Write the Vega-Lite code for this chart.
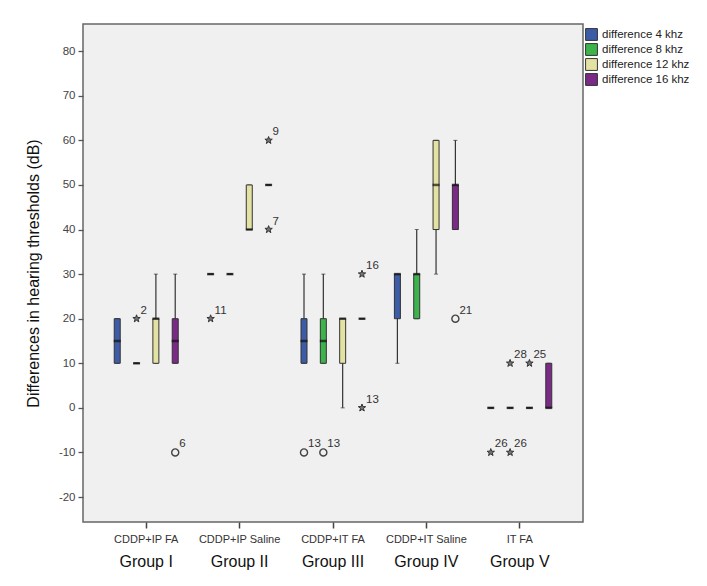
{
  "$schema": "https://vega.github.io/schema/vega-lite/v6.json",
  "width": 500,
  "height": 498,
  "autosize": {"type": "none"},
  "padding": {"left": 83, "top": 24, "right": 124, "bottom": 64},
  "background": "white",
  "config": {
    "font": "Liberation Sans",
    "view": {"fill": "#f0f0f0", "stroke": "#666666", "strokeWidth": 1.5}
  },
  "datasets": {
    "boxes": [
      {"group": "CDDP+IP FA", "freq": "difference 4 khz", "lo": 10, "q1": 10, "med": 15, "q3": 20, "hi": 20},
      {"group": "CDDP+IP FA", "freq": "difference 8 khz", "lo": 10, "q1": 10, "med": 10, "q3": 10, "hi": 10},
      {"group": "CDDP+IP FA", "freq": "difference 12 khz", "lo": 10, "q1": 10, "med": 20, "q3": 20, "hi": 30},
      {"group": "CDDP+IP FA", "freq": "difference 16 khz", "lo": 10, "q1": 10, "med": 15, "q3": 20, "hi": 30},
      {"group": "CDDP+IP Saline", "freq": "difference 4 khz", "lo": 30, "q1": 30, "med": 30, "q3": 30, "hi": 30},
      {"group": "CDDP+IP Saline", "freq": "difference 8 khz", "lo": 30, "q1": 30, "med": 30, "q3": 30, "hi": 30},
      {"group": "CDDP+IP Saline", "freq": "difference 12 khz", "lo": 40, "q1": 40, "med": 40, "q3": 50, "hi": 50},
      {"group": "CDDP+IP Saline", "freq": "difference 16 khz", "lo": 50, "q1": 50, "med": 50, "q3": 50, "hi": 50},
      {"group": "CDDP+IT FA", "freq": "difference 4 khz", "lo": 10, "q1": 10, "med": 15, "q3": 20, "hi": 30},
      {"group": "CDDP+IT FA", "freq": "difference 8 khz", "lo": 10, "q1": 10, "med": 15, "q3": 20, "hi": 30},
      {"group": "CDDP+IT FA", "freq": "difference 12 khz", "lo": 0, "q1": 10, "med": 20, "q3": 20, "hi": 20},
      {"group": "CDDP+IT FA", "freq": "difference 16 khz", "lo": 20, "q1": 20, "med": 20, "q3": 20, "hi": 20},
      {"group": "CDDP+IT Saline", "freq": "difference 4 khz", "lo": 10, "q1": 20, "med": 30, "q3": 30, "hi": 30},
      {"group": "CDDP+IT Saline", "freq": "difference 8 khz", "lo": 20, "q1": 20, "med": 30, "q3": 30, "hi": 40},
      {"group": "CDDP+IT Saline", "freq": "difference 12 khz", "lo": 30, "q1": 40, "med": 50, "q3": 60, "hi": 60},
      {"group": "CDDP+IT Saline", "freq": "difference 16 khz", "lo": 40, "q1": 40, "med": 50, "q3": 50, "hi": 60},
      {"group": "IT FA", "freq": "difference 4 khz", "lo": 0, "q1": 0, "med": 0, "q3": 0, "hi": 0},
      {"group": "IT FA", "freq": "difference 8 khz", "lo": 0, "q1": 0, "med": 0, "q3": 0, "hi": 0},
      {"group": "IT FA", "freq": "difference 12 khz", "lo": 0, "q1": 0, "med": 0, "q3": 0, "hi": 0},
      {"group": "IT FA", "freq": "difference 16 khz", "lo": 0, "q1": 0, "med": 0, "q3": 10, "hi": 10}
    ],
    "outliers": [
      {"group": "CDDP+IP FA", "freq": "difference 8 khz", "value": 20, "kind": "extreme", "case": "2"},
      {"group": "CDDP+IP FA", "freq": "difference 16 khz", "value": -10, "kind": "outlier", "case": "6"},
      {"group": "CDDP+IP Saline", "freq": "difference 4 khz", "value": 20, "kind": "extreme", "case": "11"},
      {"group": "CDDP+IP Saline", "freq": "difference 16 khz", "value": 60, "kind": "extreme", "case": "9"},
      {"group": "CDDP+IP Saline", "freq": "difference 16 khz", "value": 40, "kind": "extreme", "case": "7"},
      {"group": "CDDP+IT FA", "freq": "difference 4 khz", "value": -10, "kind": "outlier", "case": "13"},
      {"group": "CDDP+IT FA", "freq": "difference 8 khz", "value": -10, "kind": "outlier", "case": "13"},
      {"group": "CDDP+IT FA", "freq": "difference 16 khz", "value": 30, "kind": "extreme", "case": "16"},
      {"group": "CDDP+IT FA", "freq": "difference 16 khz", "value": 0, "kind": "extreme", "case": "13"},
      {"group": "CDDP+IT Saline", "freq": "difference 16 khz", "value": 20, "kind": "outlier", "case": "21"},
      {"group": "IT FA", "freq": "difference 4 khz", "value": -10, "kind": "extreme", "case": "26"},
      {"group": "IT FA", "freq": "difference 8 khz", "value": 10, "kind": "extreme", "case": "28"},
      {"group": "IT FA", "freq": "difference 8 khz", "value": -10, "kind": "extreme", "case": "26"},
      {"group": "IT FA", "freq": "difference 12 khz", "value": 10, "kind": "extreme", "case": "25"}
    ]
  },
  "resolve": {"axis": {"x": "independent"}},
  "layer": [
    {
      "data": {"name": "boxes"},
      "mark": {"type": "rule", "color": "#333333", "strokeWidth": 1.2},
      "encoding": {
        "x": {
          "field": "group", "type": "nominal",
          "scale": {"type": "band", "domain": ["CDDP+IP FA", "CDDP+IP Saline", "CDDP+IT FA", "CDDP+IT Saline", "IT FA"], "paddingInner": 0.172, "paddingOuter": 0.263},
          "axis": {"orient": "bottom", "title": null, "domain": false, "ticks": true, "tickSize": 6, "tickColor": "#444444", "tickWidth": 1.5, "labelFontSize": 11, "labelColor": "#333333", "labelPadding": 5, "labelAngle": 0}
        },
        "xOffset": {"field": "freq", "type": "nominal", "scale": {"domain": ["difference 4 khz", "difference 8 khz", "difference 12 khz", "difference 16 khz"], "paddingInner": 0, "paddingOuter": 0}},
        "y": {
          "field": "lo", "type": "quantitative",
          "scale": {"domain": [-25.6, 86.1], "nice": false, "zero": false},
          "title": "Differences in hearing thresholds (dB)",
          "axis": {"values": [-20, -10, 0, 10, 20, 30, 40, 50, 60, 70, 80], "labelExpr": "toString(datum.value)", "grid": false, "domain": false, "tickSize": 5, "tickColor": "#555555", "tickWidth": 1.3, "labelFontSize": 11.5, "labelColor": "#444444", "labelPadding": 3, "titleFontSize": 16, "titleFontWeight": "normal", "titleColor": "#111111", "titlePadding": 17}
        },
        "y2": {"field": "hi"}
      }
    },
    {
      "data": {"name": "boxes"},
      "mark": {"type": "tick", "color": "#333333", "size": 4, "thickness": 1},
      "encoding": {
        "x": {"field": "group", "type": "nominal", "axis": null},
        "xOffset": {"field": "freq", "type": "nominal"},
        "y": {"field": "lo", "type": "quantitative", "title": "Differences in hearing thresholds (dB)"}
      }
    },
    {
      "data": {"name": "boxes"},
      "mark": {"type": "tick", "color": "#333333", "size": 4, "thickness": 1},
      "encoding": {
        "x": {"field": "group", "type": "nominal", "axis": null},
        "xOffset": {"field": "freq", "type": "nominal"},
        "y": {"field": "hi", "type": "quantitative", "title": "Differences in hearing thresholds (dB)"}
      }
    },
    {
      "data": {"name": "boxes"},
      "mark": {"type": "bar", "width": 6, "stroke": "#333333", "strokeWidth": 1},
      "encoding": {
        "x": {
          "field": "group", "type": "nominal",
          "axis": {"orient": "bottom", "title": null, "domain": false, "ticks": false, "labelFontSize": 16, "labelColor": "#111111", "labelPadding": 31, "labelAngle": 0,
                   "labelExpr": "{'CDDP+IP FA': 'Group I', 'CDDP+IP Saline': 'Group II', 'CDDP+IT FA': 'Group III', 'CDDP+IT Saline': 'Group IV', 'IT FA': 'Group V'}[datum.value]"}
        },
        "xOffset": {"field": "freq", "type": "nominal"},
        "y": {"field": "q1", "type": "quantitative", "title": "Differences in hearing thresholds (dB)"},
        "y2": {"field": "q3"},
        "fill": {
          "field": "freq", "type": "nominal",
          "scale": {"domain": ["difference 4 khz", "difference 8 khz", "difference 12 khz", "difference 16 khz"], "range": ["#3d5ca8", "#3cb44b", "#e4e2a2", "#7b2a87"]},
          "legend": {"title": null, "orient": "none", "legendX": 502, "legendY": 4, "symbolType": "square", "symbolSize": 140, "symbolStrokeColor": "#333333", "symbolStrokeWidth": 1, "labelFontSize": 11.5, "labelColor": "#222222", "labelOffset": 4, "rowPadding": -2, "padding": 0}
        }
      }
    },
    {
      "data": {"name": "boxes"},
      "mark": {"type": "tick", "color": "#111111", "size": 7, "thickness": 2.5},
      "encoding": {
        "x": {"field": "group", "type": "nominal", "axis": null},
        "xOffset": {"field": "freq", "type": "nominal"},
        "y": {"field": "med", "type": "quantitative", "title": "Differences in hearing thresholds (dB)"}
      }
    },
    {
      "data": {"name": "outliers"},
      "transform": [{"filter": "datum.kind === 'outlier'"}],
      "mark": {"type": "point", "shape": "circle", "filled": false, "stroke": "#444444", "strokeWidth": 1.4, "size": 50, "opacity": 1},
      "encoding": {
        "x": {"field": "group", "type": "nominal", "axis": null},
        "xOffset": {"field": "freq", "type": "nominal"},
        "y": {"field": "value", "type": "quantitative", "title": "Differences in hearing thresholds (dB)"}
      }
    },
    {
      "data": {"name": "outliers"},
      "transform": [{"filter": "datum.kind === 'extreme'"}],
      "mark": {"type": "point", "shape": "M0,-1L0.235,-0.324L0.951,-0.309L0.38,0.124L0.588,0.809L0,0.4L-0.588,0.809L-0.38,0.124L-0.951,-0.309L-0.235,-0.324Z", "filled": true, "fill": "#777777", "stroke": "#333333", "strokeWidth": 1, "size": 60, "opacity": 1},
      "encoding": {
        "x": {"field": "group", "type": "nominal", "axis": null},
        "xOffset": {"field": "freq", "type": "nominal"},
        "y": {"field": "value", "type": "quantitative", "title": "Differences in hearing thresholds (dB)"}
      }
    },
    {
      "data": {"name": "outliers"},
      "mark": {"type": "text", "align": "left", "baseline": "bottom", "dx": 4, "dy": -3, "fontSize": 11.5, "color": "#333333"},
      "encoding": {
        "x": {"field": "group", "type": "nominal", "axis": null},
        "xOffset": {"field": "freq", "type": "nominal"},
        "y": {"field": "value", "type": "quantitative", "title": "Differences in hearing thresholds (dB)"},
        "text": {"field": "case"}
      }
    }
  ]
}
